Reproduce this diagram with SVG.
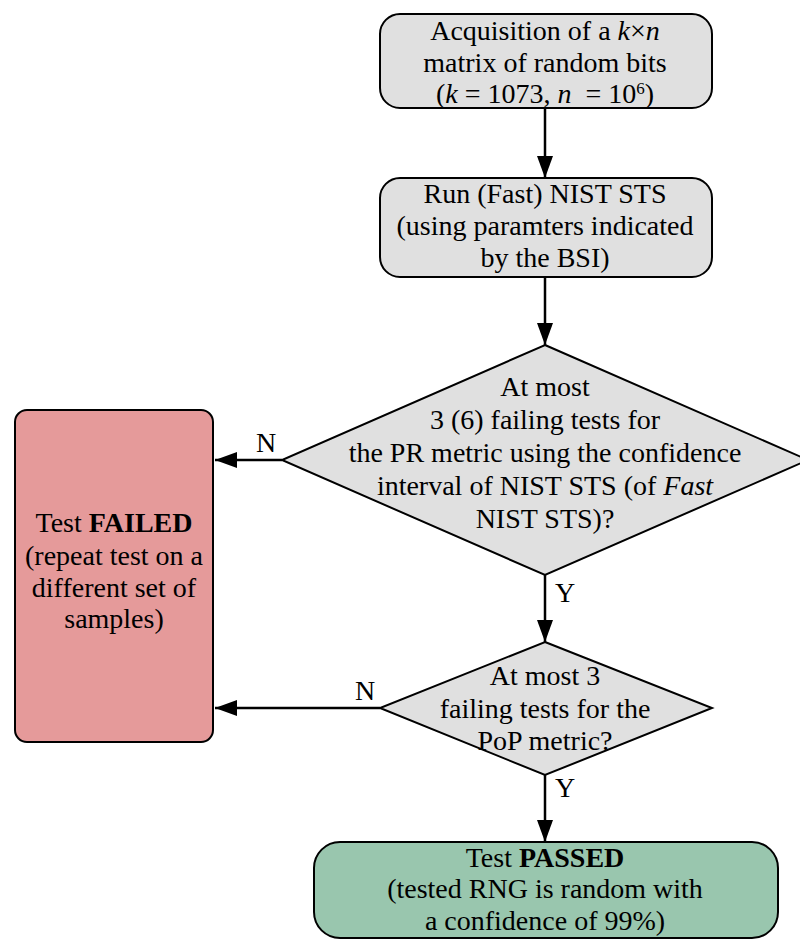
<svg xmlns="http://www.w3.org/2000/svg" width="800" height="939" viewBox="0 0 800 939">
<defs>
<style>
text{font-family:"Liberation Serif","Times New Roman",serif;font-size:28px;fill:#000;text-anchor:middle}
.box{stroke:#000;stroke-width:2}
.gray{fill:#e0e0e0}
.red{fill:#e59a9a}
.green{fill:#99c6ae}
.conn{stroke:#000;stroke-width:2.5;fill:none;marker-end:url(#ah)}
</style>
<marker id="ah" viewBox="0 0 22 16" refX="22" refY="8" markerWidth="22" markerHeight="16" markerUnits="userSpaceOnUse" orient="auto">
<path d="M0,0 L22,8 L0,16 Z" fill="#000"/>
</marker>
</defs>
<rect width="800" height="939" fill="#fff"/>
<g font-family="Liberation Serif, Times New Roman, serif">
<g id="connectors">
<line class="conn" x1="545" y1="108" x2="545" y2="178"/>
<line class="conn" x1="545" y1="277" x2="545" y2="345"/>
<line class="conn" x1="282" y1="460" x2="215" y2="460"/>
<line class="conn" x1="545" y1="575" x2="545" y2="642"/>
<line class="conn" x1="380" y1="708" x2="215" y2="708"/>
<line class="conn" x1="545" y1="775" x2="545" y2="842"/>
<text x="266" y="452">N</text>
<text x="565" y="602">Y</text>
<text x="365" y="700">N</text>
<text x="565" y="797">Y</text>
</g>
<g id="acquire">
<rect class="box gray" x="380" y="14" width="332" height="94" rx="20" ry="20"/>
<text x="545" y="40">Acquisition of a <tspan font-style="italic">k</tspan>×<tspan font-style="italic">n</tspan></text>
<text x="545" y="72">matrix of random bits</text>
<text x="545" y="103" xml:space="preserve">(<tspan font-style="italic">k</tspan> = 1073, <tspan font-style="italic">n</tspan>  = 10<tspan dy="-9" font-size="17">6</tspan><tspan dy="9">)</tspan></text>
</g>
<g id="run">
<rect class="box gray" x="380" y="178" width="332" height="99" rx="20" ry="20"/>
<text x="545" y="203">Run (Fast) NIST STS</text>
<text x="545" y="235">(using paramters indicated</text>
<text x="545" y="267">by the BSI)</text>
</g>
<g id="decision1">
<polygon class="box gray" points="545,345 808,460 545,575 282,460"/>
<text x="545" y="396">At most</text>
<text x="545" y="429">3 (6) failing tests for</text>
<text x="545" y="462">the PR metric using the confidence</text>
<text x="545" y="495">interval of NIST STS (of <tspan font-style="italic">Fast</tspan></text>
<text x="545" y="528">NIST STS)?</text>
</g>
<g id="failed">
<rect class="box red" x="15" y="410" width="198" height="332" rx="12" ry="12"/>
<text x="114" y="532">Test <tspan font-weight="bold">FAILED</tspan></text>
<text x="114" y="565">(repeat test on a</text>
<text x="114" y="597">different set of</text>
<text x="114" y="628">samples)</text>
</g>
<g id="decision2">
<polygon class="box gray" points="545,642 712,708 545,775 380,708"/>
<text x="545" y="685">At most 3</text>
<text x="545" y="718">failing tests for the</text>
<text x="545" y="750">PoP metric?</text>
</g>
<g id="passed">
<rect class="box green" x="314" y="842" width="464" height="96" rx="26" ry="26"/>
<text x="545" y="867">Test <tspan font-weight="bold">PASSED</tspan></text>
<text x="545" y="898">(tested RNG is random with</text>
<text x="545" y="930">a confidence of 99%)</text>
</g>
</g>
</svg>
